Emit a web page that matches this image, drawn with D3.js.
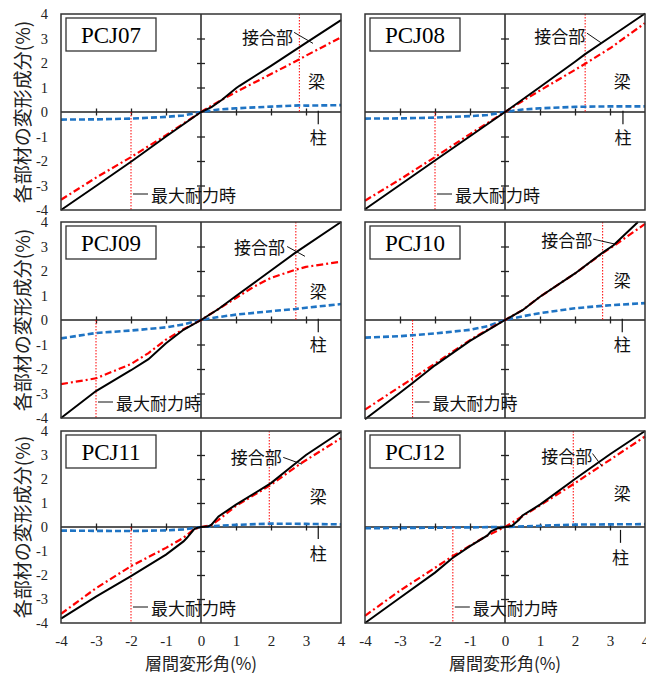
<!DOCTYPE html>
<html>
<head>
<meta charset="utf-8">
<script src="https://cdn.jsdelivr.net/npm/d3@7"></script>
<style>
  body { margin: 0; background: #fff; }
  svg { display: block; }
</style>
</head>
<body>
<svg id="chart" width="646" height="673"></svg>
<script>
// specimen names
const specimens = ['PCJ07', 'PCJ08', 'PCJ09', 'PCJ10', 'PCJ11', 'PCJ12'];
const tickValues = [-4, -3, -2, -1, 0, 1, 2, 3, 4];

// [drift, component] pairs, black = joint (cumulative), red = beam, blue = column
const pcj07Joint = [[-4,-4],[-3,-3.02],[-2,-2.03],[-1,-1.0],[-0.5,-0.5],[0,0],[0.3,0.2],[0.6,0.5],[1,0.97],[1.1,1.07],[2,1.88],[3,2.82],[4,3.75]];
const pcj07Beam = [[-4,-3.58],[-3,-2.68],[-2,-1.84],[-1,-0.95],[-0.5,-0.47],[0,0],[0.5,0.42],[1,0.82],[2,1.55],[2.8,2.14],[3,2.3],[4,3.05]];
const pcj07Column = [[-4,-0.31],[-3,-0.3],[-2,-0.27],[-1,-0.2],[-0.5,-0.14],[0,0],[0.5,0.1],[1,0.15],[2,0.22],[2.8,0.27],[3,0.26],[4,0.28]];

const pcj08Joint = [[-4,-3.97],[-2,-1.98],[0,0],[1,1.02],[2,2.05],[2.29,2.36],[3,3.05],[4,4.02]];
const pcj08Beam = [[-4,-3.62],[-3,-2.75],[-2,-1.84],[-1,-0.9],[0,0],[0.5,0.45],[1,0.88],[2,1.72],[2.29,1.97],[3,2.6],[4,3.63]];
const pcj08Column = [[-4,-0.27],[-3,-0.26],[-2,-0.23],[-1,-0.17],[-0.5,-0.12],[0,0],[0.5,0.1],[1,0.15],[2,0.21],[3,0.23],[4,0.23]];

const pcj09Joint = [[-4,-4],[-3,-2.9],[-2,-2.05],[-1.5,-1.6],[-1,-0.95],[-0.5,-0.4],[0,0],[0.5,0.45],[1,0.98],[1.6,1.6],[2,2.02],[2.7,2.75],[4,4]];
const pcj09Beam = [[-4,-2.62],[-3,-2.38],[-2,-1.8],[-1.5,-1.35],[-1,-0.8],[-0.5,-0.38],[0,0],[0.5,0.45],[1,0.9],[1.5,1.35],[2,1.72],[2.7,2.05],[3,2.17],[4,2.38]];
const pcj09Column = [[-4,-0.75],[-3,-0.53],[-2,-0.43],[-1,-0.3],[-0.5,-0.18],[0,0],[0.5,0.12],[1,0.22],[2,0.36],[2.7,0.45],[3,0.5],[4,0.65]];

const pcj10Joint = [[-4,-4.05],[-3,-2.97],[-2.64,-2.57],[-2,-1.85],[-1,-0.85],[-0.5,-0.42],[0,0],[0.5,0.4],[1,0.95],[2,1.9],[2.79,2.75],[3.1,3.05],[3.8,4]];
const pcj10Beam = [[-4,-3.66],[-3,-2.72],[-2.64,-2.39],[-2,-1.78],[-1,-0.82],[-0.5,-0.4],[0,0],[0.5,0.4],[1,0.95],[2,1.9],[2.79,2.73],[3.1,3.02],[4,3.92]];
const pcj10Column = [[-4,-0.72],[-3,-0.66],[-2.64,-0.62],[-2,-0.55],[-1,-0.4],[-0.5,-0.25],[0,0],[0.5,0.15],[1,0.28],[2,0.48],[2.79,0.58],[3,0.6],[4,0.69]];

const pcj11Joint = [[-4,-3.82],[-3,-2.9],[-2,-2.05],[-1,-1.15],[-0.5,-0.6],[-0.4,-0.45],[-0.2,-0.1],[-0.1,-0.03],[0,0],[0.2,0.02],[0.3,0.1],[0.5,0.44],[1,0.93],[2,1.83],[2.5,2.42],[3,3.0],[4,3.97]];
const pcj11Beam = [[-4,-3.62],[-3,-2.55],[-2,-1.63],[-1,-0.87],[-0.5,-0.45],[-0.2,-0.1],[0,0],[0.3,0.08],[0.5,0.3],[1,0.88],[2,1.76],[2.8,2.6],[4,3.7]];
const pcj11Column = [[-4,-0.15],[-3,-0.16],[-2,-0.17],[-1,-0.14],[-0.5,-0.1],[0,0],[0.5,0.05],[1,0.09],[2,0.14],[3,0.13],[4,0.11]];

const pcj12Joint = [[-4,-4],[-3,-2.95],[-2,-1.9],[-1.5,-1.29],[-1,-0.8],[-0.5,-0.35],[-0.4,-0.18],[-0.2,-0.05],[0,0],[0.2,0.05],[0.4,0.3],[0.5,0.48],[1,0.93],[2,2.0],[3,3.03],[4,4]];
const pcj12Beam = [[-4,-3.7],[-3,-2.65],[-2,-1.7],[-1.5,-1.22],[-1,-0.78],[-0.5,-0.35],[0,0],[0.5,0.45],[1,0.9],[2,1.83],[3,2.8],[4,3.77]];
const pcj12Column = [[-4,-0.05],[-2,-0.03],[0,0],[2,0.1],[4,0.12]];

// drift at maximum strength (negative, positive)
const maxStrengthDrift = [[-2, 2.81], [-2, 2.29], [-3, 2.71], [-2.64, 2.79], [-2, 1.95], [-1.49, 1.95]];

const jointSeries = [pcj07Joint, pcj08Joint, pcj09Joint, pcj10Joint, pcj11Joint, pcj12Joint];
const beamSeries = [pcj07Beam, pcj08Beam, pcj09Beam, pcj10Beam, pcj11Beam, pcj12Beam];
const columnSeries = [pcj07Column, pcj08Column, pcj09Column, pcj10Column, pcj11Column, pcj12Column];

// label anchors in data units
const jointLabelAt = [[2.63, 3.1], [2.29, 3.14], [2.4, 3.0], [2.49, 3.3], [2.31, 2.94], [2.49, 3.0]];
const jointLeader = [
  [[2.66, 3.25], [3.2, 2.8]],
  [[2.34, 3.22], [2.77, 2.8]],
  [[2.46, 3.0], [2.97, 2.6]],
  [[2.52, 3.3], [3.14, 3.1]],
  [[2.35, 2.9], [2.88, 2.62]],
  [[2.5, 3.06], [2.77, 2.53]]
];
const beamLabelAt = [[3.3, 1.3], [3.35, 1.3], [3.35, 1.2], [3.35, 1.67], [3.35, 1.3], [3.35, 1.43]];
const columnLabelAt = [[3.35, -1.0], [3.37, -1.0], [3.35, -0.95], [3.35, -0.95], [3.35, -1.06], [3.3, -1.22]];
const columnPointer = [[0.05, -0.5], [0.05, -0.5], [0.05, -0.5], [0.05, -0.5], [0.05, -0.5], [-0.12, -0.66]];

const colBounds = [[61, 341], [365, 645]];
const rowBounds = [[14, 210], [222, 418], [431, 623]];

const svg = d3.select('#chart');
const cjk = '"Noto Sans CJK JP", "Noto Sans", sans-serif';
const serif = '"Liberation Serif", "Times New Roman", serif';

const line = (x, y) => d3.line().x(d => x(d[0])).y(d => y(d[1]));

specimens.forEach((name, i) => {
  const col = i % 2, row = Math.floor(i / 2);
  const [left, right] = colBounds[col];
  const [top, bottom] = rowBounds[row];
  const x = d3.scaleLinear().domain([-4, 4]).range([left, right]);
  const y = d3.scaleLinear().domain([-4, 4]).range([bottom, top]);
  const g = svg.append('g');

  // crossing ticks on the zero axes
  const inner = [-3, -2, -1, 1, 2, 3];
  g.append('g')
    .attr('transform', `translate(0,${y(0) - 3.5})`)
    .call(d3.axisBottom(x).tickValues(inner).tickSize(7).tickFormat(''))
    .call(s => s.select('.domain').remove())
    .call(s => s.selectAll('line').attr('stroke', '#222').attr('stroke-width', 1.3));
  g.append('g')
    .attr('transform', `translate(${x(0) + 4},0)`)
    .call(d3.axisLeft(y).tickValues(inner).tickSize(8).tickFormat(''))
    .call(s => s.select('.domain').remove())
    .call(s => s.selectAll('line').attr('stroke', '#222').attr('stroke-width', 1.3));

  g.append('line').attr('x1', x(-4)).attr('x2', x(4)).attr('y1', y(0)).attr('y2', y(0))
    .attr('stroke', '#222').attr('stroke-width', 1.5);
  g.append('line').attr('x1', x(0)).attr('x2', x(0)).attr('y1', y(-4)).attr('y2', y(4))
    .attr('stroke', '#222').attr('stroke-width', 1.5);

  // max strength markers
  const [neg, pos] = maxStrengthDrift[i];
  g.append('line').attr('x1', x(neg)).attr('x2', x(neg)).attr('y1', y(0)).attr('y2', y(-4))
    .attr('stroke', '#ff0000').attr('stroke-width', 1).attr('stroke-dasharray', '1.5,1.5');
  g.append('line').attr('x1', x(pos)).attr('x2', x(pos)).attr('y1', y(4)).attr('y2', y(0))
    .attr('stroke', '#ff0000').attr('stroke-width', 1).attr('stroke-dasharray', '1.5,1.5');

  // series
  g.append('path').datum(columnSeries[i]).attr('d', line(x, y))
    .attr('fill', 'none').attr('stroke', '#1f74c4').attr('stroke-width', 2.6).attr('stroke-dasharray', '6,3');
  g.append('path').datum(beamSeries[i]).attr('d', line(x, y))
    .attr('fill', 'none').attr('stroke', '#ff0000').attr('stroke-width', 2.2).attr('stroke-dasharray', '7,3,2,3');
  g.append('path').datum(jointSeries[i]).attr('d', line(x, y))
    .attr('fill', 'none').attr('stroke', '#000').attr('stroke-width', 2);

  // frame
  g.append('rect').attr('x', left).attr('y', top).attr('width', right - left).attr('height', bottom - top)
    .attr('fill', 'none').attr('stroke', '#333').attr('stroke-width', 1.5);

  // specimen label box
  g.append('rect').attr('x', left + 5).attr('y', top + 4).attr('width', 90).attr('height', 33)
    .attr('fill', '#fff').attr('stroke', '#333').attr('stroke-width', 1.3);
  g.append('text').attr('x', left + 50).attr('y', top + 21).attr('text-anchor', 'middle')
    .attr('dominant-baseline', 'central').attr('font-family', serif).attr('font-size', 23)
    .text(name);

  // annotations
  const lab = (px, py, txt, anchor) => g.append('text').attr('x', px).attr('y', py)
    .attr('text-anchor', anchor).attr('dominant-baseline', 'central')
    .attr('font-family', cjk).attr('font-size', 17).attr('fill', '#111').text(txt);

  const [jx, jy] = jointLabelAt[i];
  lab(x(jx), y(jy), '接合部', 'end');
  const [l0, l1] = jointLeader[i];
  g.append('line').attr('x1', x(l0[0])).attr('y1', y(l0[1])).attr('x2', x(l1[0])).attr('y2', y(l1[1]))
    .attr('stroke', '#111').attr('stroke-width', 1);

  const [bx, by] = beamLabelAt[i];
  lab(x(bx), y(by), '梁', 'middle');

  const [cx, cy] = columnLabelAt[i];
  const [p0, p1] = columnPointer[i];
  g.append('line').attr('x1', x(cx)).attr('x2', x(cx)).attr('y1', y(p0)).attr('y2', y(p1))
    .attr('stroke', '#111').attr('stroke-width', 1.2);
  lab(x(cx), y(cy), '柱', 'middle');

  const my = bottom - 16;
  g.append('line').attr('x1', x(neg) + 2).attr('x2', x(neg) + 17).attr('y1', my).attr('y2', my)
    .attr('stroke', '#111').attr('stroke-width', 1);
  lab(x(neg) + 20, my, '最大耐力時', 'start');

  // outer tick labels
  if (col === 0) {
    g.append('g').attr('transform', `translate(${left - 13},0)`)
      .call(d3.axisLeft(y).tickValues(tickValues).tickSize(0).tickPadding(0).tickFormat(d => String(d)))
      .call(s => s.select('.domain').remove())
      .call(s => s.selectAll('text').attr('font-family', serif).attr('font-size', 14.5).attr('fill', '#222'));
    svg.append('text')
      .attr('transform', `translate(21,${(top + bottom) / 2}) rotate(-90)`)
      .attr('text-anchor', 'middle').attr('dominant-baseline', 'central')
      .attr('font-family', cjk).attr('font-size', 19).attr('fill', '#222')
      .text('各部材の変形成分(%)');
  }
  if (row === 2) {
    g.append('g').attr('transform', `translate(0,${bottom + 12})`)
      .call(d3.axisBottom(x).tickValues(tickValues).tickSize(0).tickPadding(0).tickFormat(d => String(d)))
      .call(s => s.select('.domain').remove())
      .call(s => s.selectAll('text').attr('font-family', serif).attr('font-size', 15).attr('fill', '#222'));
    svg.append('text').attr('x', x(0)).attr('y', 662).attr('text-anchor', 'middle')
      .attr('dominant-baseline', 'central')
      .attr('font-family', cjk).attr('font-size', 17).attr('fill', '#222')
      .text('層間変形角(%)');
  }
});
</script>
</body>
</html>
